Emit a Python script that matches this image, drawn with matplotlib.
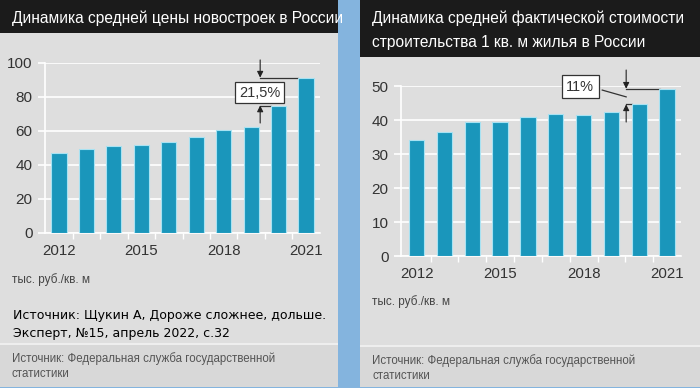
"""Два графика: средняя цена новостроек и фактическая стоимость строительства 1 кв. м."""

import matplotlib

matplotlib.use("Agg")
import matplotlib.pyplot as plt
from matplotlib.patches import Rectangle
from matplotlib.lines import Line2D

YEARS = [2012, 2013, 2014, 2015, 2016, 2017, 2018, 2019, 2020, 2021]
PRICE_NEW = [47.0, 49.4, 51.0, 52.0, 53.5, 56.5, 60.6, 62.5, 75.0, 91.4]
BUILD_COST = [34.1, 36.4, 39.5, 39.3, 40.9, 41.7, 41.4, 42.5, 44.6, 49.2]
YEAR_TICKS = [2012, 2015, 2018, 2021]

TITLE_LEFT = "Динамика средней цены новостроек в России"
TITLE_RIGHT = "Динамика средней фактической стоимости\nстроительства 1 кв. м жилья в России"
UNIT = "тыс. руб./кв. м"
SOURCE = "Источник: Федеральная служба государственной\nстатистики"
OVERLAY = "Источник: Щукин А, Дороже сложнее, дольше.\nЭксперт, №15, апрель 2022, с.32"
LABEL_LEFT = "21,5%"
LABEL_RIGHT = "11%"

W, H = 700, 388
BLUE_BG = "#84b4de"
PANEL = "#dedede"
FOOT = "#d8d8d8"
DARK = "#1b1b1b"
BAR = "#1a96bb"
BAR_EDGE = "#a8e2f2"

plt.rcParams["font.family"] = ["Liberation Sans", "DejaVu Sans"]


def fx(x):
    return x / W


def fy(y):
    return 1 - y / H


def rect(fig, x0, y0, x1, y1, color):
    fig.add_artist(Rectangle((fx(x0), fy(y1)), fx(x1) - fx(x0), fy(y0) - fy(y1),
                             transform=fig.transFigure, color=color, lw=0, zorder=0))


def make_axes(fig, x0, y0, x1, y1):
    ax = fig.add_axes([fx(x0), fy(y1), fx(x1) - fx(x0), fy(y0) - fy(y1)])
    ax.set_facecolor("none")
    return ax


def style_axes(ax, values, xlim, ylim, yticks):
    ax.bar(YEARS, values, width=0.55, color=BAR, edgecolor=BAR_EDGE, lw=0.8, zorder=3)
    ax.set_xlim(*xlim)
    ax.set_ylim(*ylim)
    ax.set_yticks(yticks)
    ax.set_xticks(YEAR_TICKS)
    ax.set_xticks([y + 0.5 for y in YEARS[:-1]], minor=True)
    ax.grid(axis="y", color="white", lw=1.2, zorder=1)
    for s in ("top", "right"):
        ax.spines[s].set_visible(False)
    for s in ("left", "bottom"):
        ax.spines[s].set_color("white")
        ax.spines[s].set_linewidth(1.2)
    ax.tick_params(axis="y", length=5, width=1.2, color="white", pad=4,
                   labelsize=11, labelcolor="#333333")
    ax.tick_params(axis="x", which="major", length=0, pad=8,
                   labelsize=10.8, labelcolor="#333333")
    ax.tick_params(axis="x", which="minor", length=4, width=1.0, color="white")


def bracket(ax, x, lo, hi, lo_end, hi_end, top_start, bot_start):
    kw = dict(arrowstyle="-|>", color="#222222", lw=0.8, mutation_scale=9,
              shrinkA=0, shrinkB=0)
    ax.annotate("", xy=(x, hi), xytext=(x, top_start), arrowprops=kw,
                annotation_clip=False, zorder=6)
    ax.annotate("", xy=(x, lo), xytext=(x, bot_start), arrowprops=kw,
                annotation_clip=False, zorder=6)
    ax.add_line(Line2D([x, hi_end], [hi, hi], color="#333333", lw=0.9,
                       clip_on=False, zorder=2))
    ax.add_line(Line2D([x, lo_end], [lo, lo], color="#333333", lw=0.9,
                       clip_on=False, zorder=2))


fig = plt.figure(figsize=(W / 100, H / 100), dpi=100)
fig.patch.set_facecolor(BLUE_BG)

# left panel
rect(fig, 0, 0, 338, 387, PANEL)
rect(fig, 0, 0, 338, 33, DARK)
rect(fig, 0, 344, 338, 387, FOOT)
rect(fig, 0, 343, 338, 345, "#eeeeee")
# right panel
rect(fig, 360, 0, 700, 387, PANEL)
rect(fig, 360, 0, 700, 57, DARK)
rect(fig, 360, 346, 700, 387, FOOT)
rect(fig, 360, 345, 700, 347, "#eeeeee")

fig.text(fx(12), fy(18), TITLE_LEFT, color="white", fontsize=11.2, va="center")
fig.text(fx(372), fy(30), TITLE_RIGHT, color="white", fontsize=11.2, va="center",
         linespacing=1.75)

ax1 = make_axes(fig, 45, 63, 320, 233)
style_axes(ax1, PRICE_NEW, (2011.49, 2021.51), (0, 100), range(0, 101, 20))
ax2 = make_axes(fig, 401, 86, 681, 256)
style_axes(ax2, BUILD_COST, (2011.44, 2021.5), (0, 50), range(0, 51, 10))

# left bracket
bracket(ax1, 2019.33, PRICE_NEW[8], PRICE_NEW[9], 2019.72, 2020.72, 101.8, 64.7)
ax1.text(2019.31, 82.6, LABEL_LEFT, ha="center", va="center", fontsize=10.5,
         color="#333333", zorder=7,
         bbox=dict(boxstyle="square,pad=0.25", fc="white", ec="#333333", lw=0.9))

# right bracket
bracket(ax2, 2019.53, BUILD_COST[8], BUILD_COST[9], 2019.73, 2020.73, 54.7, 39.4)
ax2.add_line(Line2D([2018.67, 2019.53], [48.8, 46.8], color="#333333", lw=0.9,
                    clip_on=False, zorder=5))
ax2.text(2017.88, 49.85, LABEL_RIGHT, ha="center", va="center", fontsize=10.5,
         color="#333333", zorder=7, clip_on=False,
         bbox=dict(boxstyle="square,pad=0.3", fc="white", ec="#333333", lw=0.9))

fig.text(fx(12), fy(280), UNIT, color="#444444", fontsize=8.5, va="center")
fig.text(fx(372), fy(302), UNIT, color="#444444", fontsize=8.5, va="center")

fig.text(fx(12), fy(366), SOURCE, color="#555555", fontsize=8.3, va="center",
         linespacing=1.4)
fig.text(fx(372), fy(368), SOURCE, color="#555555", fontsize=8.3, va="center",
         linespacing=1.4)

fig.text(fx(13), fy(324), OVERLAY, color="black", fontsize=9.0,
         family="DejaVu Sans", va="center", linespacing=1.5)

fig.savefig("out.png", dpi=100, facecolor=fig.get_facecolor())
